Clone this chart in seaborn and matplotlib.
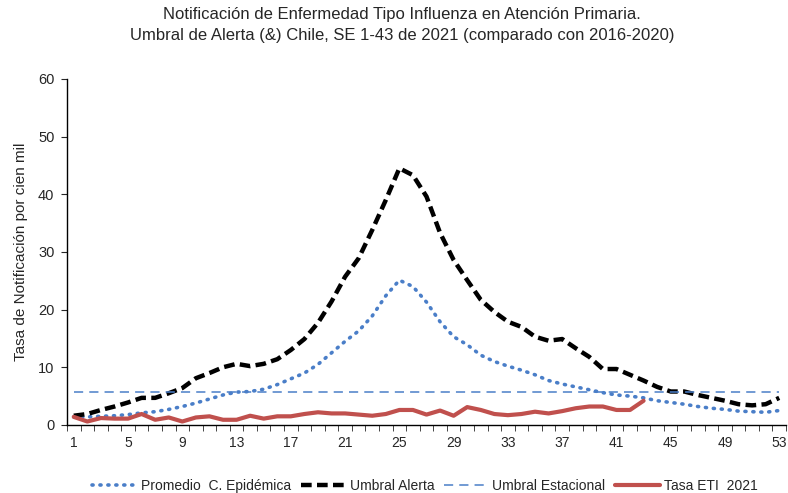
import matplotlib
matplotlib.use("Agg")
import matplotlib.pyplot as plt
import numpy as np
import pandas as pd
import seaborn as sns

weeks = list(range(1, 54))

promedio = [1.4, 1.4, 1.5, 1.6, 1.8, 2.1, 2.3, 2.7, 3.2, 3.8,
            4.5, 5.2, 5.7, 5.8, 6.2, 7.0, 8.0, 9.0, 10.5, 12.5,
            14.5, 16.3, 18.9, 22.4, 25.1, 24.0, 21.3, 17.9, 15.3, 13.9,
            12.1, 11.0, 10.2, 9.5, 8.7, 7.7, 7.1, 6.6, 6.1, 5.6,
            5.2, 5.0, 4.7, 4.2, 3.9, 3.6, 3.2, 2.9, 2.7, 2.4,
            2.3, 2.2, 2.5]

umbral_alerta = [1.6, 1.9, 2.6, 3.2, 3.9, 4.7, 4.7, 5.5, 6.4, 8.1,
                 9.0, 10.0, 10.6, 10.2, 10.6, 11.4, 13.0, 14.9, 17.7, 21.4,
                 25.7, 28.9, 33.8, 39.0, 44.5, 43.3, 39.6, 33.3, 28.6, 25.1,
                 21.7, 19.6, 17.9, 17.0, 15.3, 14.6, 14.9, 13.3, 11.8, 9.7,
                 9.7, 8.7, 7.7, 6.6, 5.8, 5.8, 5.2, 4.7, 4.2, 3.6,
                 3.4, 3.6, 4.7]

umbral_estacional = [5.8] * 53

tasa_2021 = [1.4, 0.6, 1.2, 1.1, 1.1, 1.9, 0.9, 1.3, 0.6, 1.3,
             1.5, 0.9, 0.9, 1.6, 1.1, 1.5, 1.5, 1.9, 2.2, 2.0,
             2.0, 1.8, 1.6, 1.9, 2.6, 2.6, 1.8, 2.5, 1.6, 3.1,
             2.6, 1.9, 1.7, 1.9, 2.3, 2.0, 2.4, 2.9, 3.2, 3.2,
             2.6, 2.6, 4.2]

x_labels = list(range(1, 54, 4))
y_ticks = list(range(0, 61, 10))

BLUE = "#4A7EC8"
RED = "#C0504D"

sns.set_style("white")
plt.rcParams["font.family"] = ["Liberation Sans", "DejaVu Sans"]

fig = plt.figure(figsize=(7.88, 4.93), dpi=100)
ax = fig.add_axes([0.085, 0.138, 0.9125, 0.702])

df = pd.DataFrame({"week": weeks, "prom": promedio, "alerta": umbral_alerta,
                   "estac": umbral_estacional})
df21 = pd.DataFrame({"week": weeks[:len(tasa_2021)], "tasa": tasa_2021})

sns.lineplot(data=df, x="week", y="prom", ax=ax, color=BLUE, lw=2.6,
             linestyle=(0, (0.3, 1.9)), dash_capstyle="round",
             label="Promedio  C. Epidémica")
sns.lineplot(data=df, x="week", y="alerta", ax=ax, color="black", lw=3.2,
             linestyle=(0, (2.4, 1.2)), label="Umbral Alerta")
sns.lineplot(data=df, x="week", y="estac", ax=ax, color=BLUE, lw=1.1,
             linestyle=(0, (6, 4)), label="Umbral Estacional")
sns.lineplot(data=df21, x="week", y="tasa", ax=ax, color=RED, lw=3,
             label="Tasa ETI  2021")

ax.set_xlim(0.5, 53.5)
ax.set_ylim(0, 60)
ax.set_xticks(x_labels)
ax.set_xticklabels([str(v) for v in x_labels], fontsize=10)
ax.set_xticks(np.arange(0.5, 54, 1), minor=True)
ax.tick_params(axis="x", which="major", length=0, pad=8)
ax.tick_params(axis="x", which="minor", length=4, direction="out", bottom=True)
ax.set_yticks(y_ticks)
ax.set_yticklabels([str(v) for v in y_ticks], fontsize=10.5)
ax.tick_params(axis="y", length=4, direction="out", left=True, pad=5)
ax.set_xlabel("")
ax.set_ylabel("Tasa de Notificación por cien mil", fontsize=11, labelpad=7)
for s in ["top", "right"]:
    ax.spines[s].set_visible(False)
for s in ["left", "bottom"]:
    ax.spines[s].set_color("black")
    ax.spines[s].set_linewidth(1)

fig.suptitle("Notificación de Enfermedad Tipo Influenza en Atención Primaria.\n"
             "Umbral de Alerta (&) Chile, SE 1-43 de 2021 (comparado con 2016-2020)",
             x=0.51, y=0.985, fontsize=12, linespacing=1.5)

ax.legend(loc="upper center", bbox_to_anchor=(0.498, -0.12), ncol=4,
          frameon=False, fontsize=10, handlelength=3.2, columnspacing=0.7,
          handletextpad=0.3)

fig.savefig("out.png", dpi=100)
